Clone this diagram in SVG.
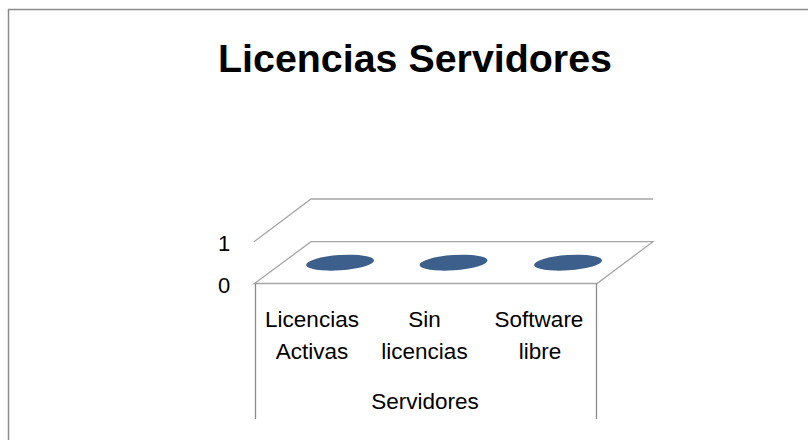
<svg xmlns="http://www.w3.org/2000/svg" width="808" height="440" viewBox="0 0 808 440">
<style>
.t{font-family:"Liberation Sans",Arial,sans-serif;fill:#000}
.lbl{font-size:22.5px;text-anchor:middle}
.grid{fill:none;stroke:#a6a6a6;stroke-width:1.3}
.ax{fill:none;stroke:#8c8c8c;stroke-width:1.3}
.pt{fill:#3c5f8c}
</style>
<rect width="808" height="440" fill="#fff"/>
<path d="M8.5 440 V9.5 H808" fill="none" stroke="#8c8c8c" stroke-width="1.5"/>
<text class="t" x="218" y="72" font-size="38" font-weight="bold" textLength="394" lengthAdjust="spacingAndGlyphs">Licencias Servidores</text>
<g id="walls">
<path class="grid" d="M254 241.7 L311 199 H653"/>
<path class="grid" d="M254.5 283.5 L311 241.7 H653 L597 283.5 Z"/>
<path class="ax" d="M255.5 283.5 V419 M596.5 283.5 V419"/>
</g>
<g id="axis">
<text class="t" x="224" y="250.5" font-size="22" text-anchor="middle">1</text>
<text class="t" x="224" y="293" font-size="22" text-anchor="middle">0</text>
</g>
<g id="points">
<ellipse class="pt" cx="340" cy="262.7" rx="34" ry="7.6" transform="rotate(-4 340 262.7)"/>
<ellipse class="pt" cx="453.5" cy="262.7" rx="34" ry="7.6" transform="rotate(-4 453.5 262.7)"/>
<ellipse class="pt" cx="568" cy="262.7" rx="34" ry="7.6" transform="rotate(-4 568 262.7)"/>
</g>
<g id="categories">
<text class="t lbl" x="312" y="327">Licencias</text>
<text class="t lbl" x="312" y="359">Activas</text>
<text class="t lbl" x="424.5" y="327">Sin</text>
<text class="t lbl" x="424.5" y="359">licencias</text>
<text class="t lbl" x="539" y="327">Software</text>
<text class="t lbl" x="540" y="359">libre</text>
<text class="t lbl" x="425" y="409">Servidores</text>
</g>
</svg>
